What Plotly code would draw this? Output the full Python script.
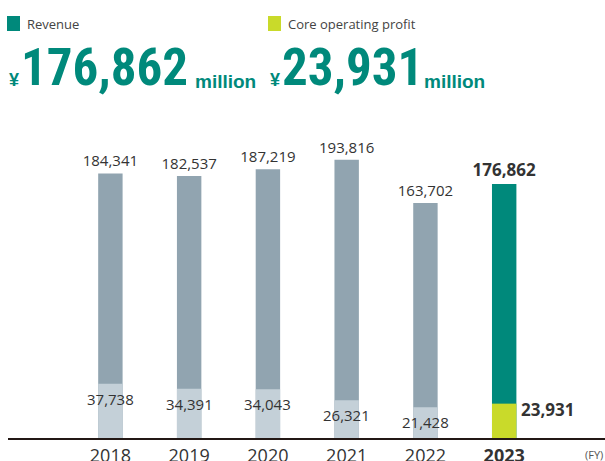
import plotly.graph_objects as go

# data (JPY million)
years = [2018, 2019, 2020, 2021, 2022, 2023]
year_labels = ["2018", "2019", "2020", "2021", "2022", "<b>2023</b>"]
revenue = [184341, 182537, 187219, 193816, 163702, 176862]
core_profit = [37738, 34391, 34043, 26321, 21428, 23931]

headline_revenue = "176,862"
headline_profit = "23,931"

TEAL = "#00897b"
LIME = "#c9da2a"
GREY = "#91a4b0"
LIGHT_GREY = "#c4d0d8"
TEXT = "#333333"

W, H = 605, 461
MT, MB, ML, MR = 110, 23, 8, 0


def px(x):
    return (x - ML) / (W - ML - MR)


def py(y):
    return (H - MB - y) / (H - MT - MB)


rev_colors = [GREY] * (len(years) - 1) + [TEAL]
profit_colors = [LIGHT_GREY] * (len(years) - 1) + [LIME]
rev_text = ["{:,}".format(v) for v in revenue[:-1]] + \
    ["<b>{:,}</b>".format(revenue[-1])]

fig = go.Figure()
fig.add_trace(go.Bar(x=years, y=revenue, width=0.31,
                     marker=dict(color=rev_colors, line_width=0),
                     text=rev_text, textposition="outside",
                     constraintext="none", textangle=0, cliponaxis=False,
                     textfont=dict(family="Open Sans", color=TEXT,
                                   size=[15] * 5 + [17]),
                     hoverinfo="skip"))
fig.add_trace(go.Bar(x=years, y=core_profit, width=0.31,
                     marker=dict(color=profit_colors, line_width=0),
                     hoverinfo="skip"))

annotations = []
# core operating profit labels
for yr, val in zip(years[:-1], core_profit[:-1]):
    annotations.append(dict(x=yr, y=val, xref="x", yref="y",
                            text="{:,}".format(val), showarrow=False,
                            yanchor="top", yshift=-3,
                            font=dict(family="Open Sans", size=15,
                                      color=TEXT)))
annotations.append(dict(x=years[-1], y=core_profit[-1], xref="x", yref="y",
                        text="<b>{:,}</b>".format(core_profit[-1]),
                        showarrow=False, xanchor="left", xshift=15,
                        yanchor="middle", yshift=-6,
                        font=dict(family="Open Sans", size=17, color=TEXT)))

# headline block
big = dict(family="Roboto Condensed, Liberation Sans",
           size=51, color=TEAL, weight="bold")
small = dict(family="Liberation Sans", size=19, color=TEAL, weight="bold")
yen = dict(family="Liberation Sans", size=18, color=TEAL, weight="bold")
legend_font = dict(family="Open Sans", size=13, color="#444444")

for x0, label, number in [(7, "Revenue", headline_revenue),
                          (268, "Core operating profit", headline_profit)]:
    annotations.append(dict(x=px(x0 + 18), y=py(23.5), xref="paper",
                            yref="paper", text=label, showarrow=False,
                            xanchor="left", yanchor="middle",
                            font=legend_font))
    annotations.append(dict(x=px(x0), y=py(92), xref="paper", yref="paper",
                            text="¥", showarrow=False, xanchor="left",
                            yanchor="bottom", font=yen))
    annotations.append(dict(x=px(x0 + 12), y=py(99), xref="paper",
                            yref="paper", text=number, showarrow=False,
                            xanchor="left", yanchor="bottom", font=big))
annotations.append(dict(x=px(193), y=py(94), xref="paper", yref="paper",
                        text="million", showarrow=False, xanchor="left",
                        yanchor="bottom", font=small))
annotations.append(dict(x=px(422), y=py(94), xref="paper", yref="paper",
                        text="million", showarrow=False, xanchor="left",
                        yanchor="bottom", font=small))
annotations.append(dict(x=1, y=py(454), xref="paper", yref="paper",
                        text="(FY)", showarrow=False, xanchor="right",
                        yanchor="middle",
                        font=dict(family="Open Sans", size=11,
                                  color="#555555")))

shapes = [
    dict(type="rect", xref="paper", yref="paper",
         x0=px(7), x1=px(20), y0=py(31), y1=py(16),
         fillcolor=TEAL, line_width=0),
    dict(type="rect", xref="paper", yref="paper",
         x0=px(268), x1=px(281), y0=py(31), y1=py(16),
         fillcolor=LIME, line_width=0),
]

fig.update_layout(width=W, height=H,
                  margin=dict(t=MT, b=MB, l=ML, r=MR, autoexpand=False),
                  paper_bgcolor="white", plot_bgcolor="white",
                  barmode="overlay", showlegend=False,
                  annotations=annotations, shapes=shapes)
fig.update_xaxes(range=[2016.70, 2024.28], tickvals=years,
                 ticktext=year_labels, showgrid=False, zeroline=False,
                 showline=True, linecolor="#231815", linewidth=2,
                 ticks="", automargin=False,
                 tickfont=dict(family="Open Sans", size=18, color=TEXT))
fig.update_yaxes(range=[0, 228500], visible=False, showgrid=False,
                 automargin=False)

fig.write_html("out.html", config={"displayModeBar": False},
               post_script="document.body.style.margin='0';")
